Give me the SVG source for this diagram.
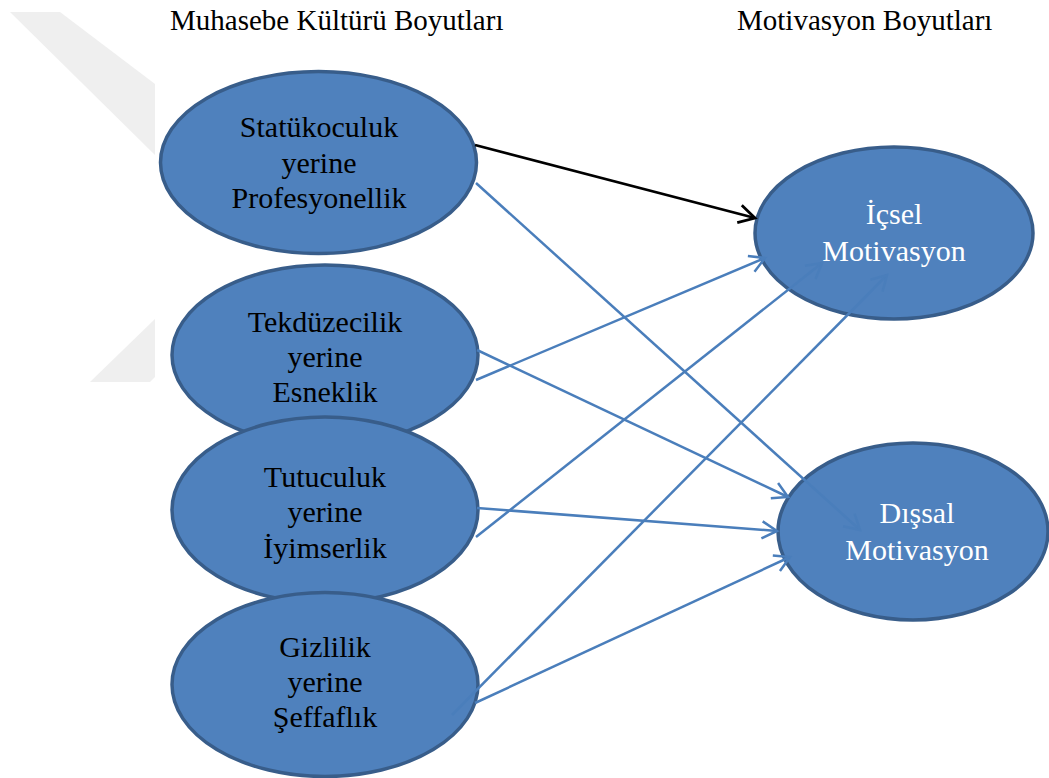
<svg xmlns="http://www.w3.org/2000/svg" width="1049" height="778" viewBox="0 0 1049 778">
  <defs>
    <style>
      .node { fill: #4F81BD; stroke: #385D8A; stroke-width: 3.5; }
      .lbl { font-family: "Liberation Serif", "Times New Roman", serif; font-size: 30px; text-anchor: middle; }
      .dark { fill: #000000; }
      .light { fill: #FFFFFF; }
      .title { font-family: "Liberation Serif", "Times New Roman", serif; font-size: 29px; fill: #000000; }
      .conn { fill: none; stroke: #4A7EBB; stroke-width: 2.5; marker-end: url(#arrBlue); }
      .connBlack { fill: none; stroke: #000000; stroke-width: 2.8; marker-end: url(#arrBlack); }
      .wm { fill: #EFEFEF; }
    </style>
    <marker id="arrBlue" markerUnits="userSpaceOnUse" markerWidth="40" markerHeight="40" viewBox="-20 -20 40 40" refX="0" refY="0" orient="auto">
      <path d="M -15 -8.5 L 0 0 L -15 8.5" fill="none" stroke="#4A7EBB" stroke-width="2.5" stroke-linejoin="miter"/>
    </marker>
    <marker id="arrBlack" markerUnits="userSpaceOnUse" markerWidth="40" markerHeight="40" viewBox="-20 -20 40 40" refX="0" refY="0" orient="auto">
      <path d="M -16 -9 L 0 0 L -16 9" fill="none" stroke="#000000" stroke-width="2.8" stroke-linejoin="miter"/>
    </marker>
  </defs>

  <rect x="0" y="0" width="1049" height="778" fill="#FFFFFF"/>

  <g id="watermark">
    <polygon class="wm" points="10,12 60,12 155,84 155,155"/>
    <polygon class="wm" points="155,319 90,382 150,382 155,377"/>
  </g>

  <g id="titles">
    <text class="title" x="170" y="30">Muhasebe Kültürü Boyutları</text>
    <text class="title" x="737" y="30">Motivasyon Boyutları</text>
  </g>

  <g id="node-statukoculuk">
    <ellipse class="node" cx="318.5" cy="162.5" rx="158" ry="91"/>
    <text class="lbl dark" x="319" y="137">Statükoculuk</text>
    <text class="lbl dark" x="319" y="173">yerine</text>
    <text class="lbl dark" x="319" y="208">Profesyonellik</text>
  </g>

  <g id="node-tekduzecilik">
    <ellipse class="node" cx="325" cy="355" rx="153" ry="90"/>
    <text class="lbl dark" x="325" y="332">Tekdüzecilik</text>
    <text class="lbl dark" x="325" y="367">yerine</text>
    <text class="lbl dark" x="325" y="402">Esneklik</text>
  </g>

  <g id="node-tutuculuk">
    <ellipse class="node" cx="325" cy="510" rx="153" ry="93"/>
    <text class="lbl dark" x="325" y="487">Tutuculuk</text>
    <text class="lbl dark" x="325" y="522">yerine</text>
    <text class="lbl dark" x="325" y="558">İyimserlik</text>
  </g>

  <g id="node-gizlilik">
    <ellipse class="node" cx="325" cy="684.5" rx="153" ry="92"/>
    <text class="lbl dark" x="325" y="657">Gizlilik</text>
    <text class="lbl dark" x="325" y="692">yerine</text>
    <text class="lbl dark" x="325" y="727">Şeffaflık</text>
  </g>

  <g id="node-icsel">
    <ellipse class="node" cx="894" cy="233" rx="139" ry="86"/>
    <text class="lbl light" x="894" y="224">İçsel</text>
    <text class="lbl light" x="894" y="261">Motivasyon</text>
  </g>

  <g id="node-dissal">
    <ellipse class="node" cx="913" cy="531.5" rx="135" ry="88.5"/>
    <text class="lbl light" x="917" y="523">Dışsal</text>
    <text class="lbl light" x="917" y="560">Motivasyon</text>
  </g>

  <g id="connectors">
    <line class="connBlack" x1="475" y1="145" x2="755" y2="218"/>
    <line class="conn" x1="476" y1="183" x2="860" y2="530"/>
    <line class="conn" x1="477" y1="350" x2="788" y2="497"/>
    <line class="conn" x1="476" y1="380" x2="765" y2="258"/>
    <line class="conn" x1="477" y1="508" x2="777" y2="531"/>
    <line class="conn" x1="476" y1="537" x2="822" y2="263"/>
    <line class="conn" x1="452" y1="715" x2="887" y2="275"/>
    <line class="conn" x1="475" y1="703" x2="790" y2="557"/>
  </g>
</svg>
